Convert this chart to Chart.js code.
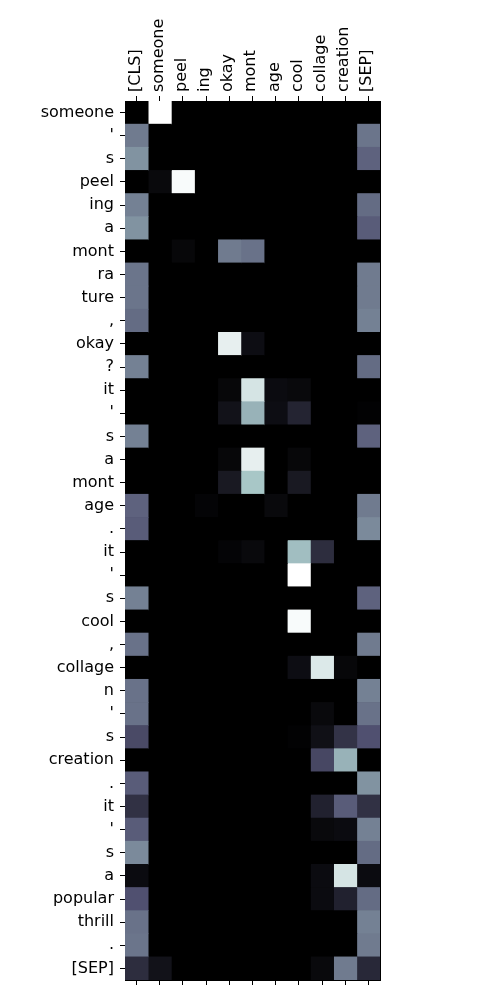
<!DOCTYPE html>
<html>
<head>
<meta charset="utf-8">
<script src="https://cdn.jsdelivr.net/npm/chart.js@4/dist/chart.umd.min.js"></script>
<style>
  html, body { margin: 0; padding: 0; background: #fff; }
  #wrap { width: 500px; height: 1000px; position: relative; }
</style>
</head>
<body>
<div id="wrap"><canvas id="attn"></canvas></div>
<script>
// kolom = token kunci, baris = token query
var colLabels = ['[CLS]', 'someone', 'peel', 'ing', 'okay', 'mont', 'age', 'cool', 'collage', 'creation', '[SEP]'];
var rowLabels = ['someone', "'", 's', 'peel', 'ing', 'a', 'mont', 'ra', 'ture', ',', 'okay', '?', 'it', "'", 's',
    'a', 'mont', 'age', '.', 'it', "'", 's', 'cool', ',', 'collage', 'n', "'", 's', 'creation', '.', 'it', "'", 's',
    'a', 'popular', 'thrill', '.', '[SEP]'];

// bobot atensi per baris (urutan kolom sama dengan colLabels)
var weights = [
    [0,    1,    0,    0,    0,    0,    0,    0,    0,    0,    0   ],
    [0.50, 0,    0,    0,    0,    0,    0,    0,    0,    0,    0.48],
    [0.58, 0,    0,    0,    0,    0,    0,    0,    0,    0,    0.42],
    [0,    0.04, 0.98, 0,    0,    0,    0,    0,    0,    0,    0   ],
    [0.52, 0,    0,    0,    0,    0,    0,    0,    0,    0,    0.45],
    [0.58, 0,    0,    0,    0,    0,    0,    0,    0,    0,    0.40],
    [0,    0,    0.03, 0,    0.50, 0.47, 0,    0,    0,    0,    0   ],
    [0.48, 0,    0,    0,    0,    0,    0,    0,    0,    0,    0.50],
    [0.48, 0,    0,    0,    0,    0,    0,    0,    0,    0,    0.50],
    [0.45, 0,    0,    0,    0,    0,    0,    0,    0,    0,    0.52],
    [0,    0,    0,    0,    0.93, 0.06, 0,    0,    0,    0,    0   ],
    [0.52, 0,    0,    0,    0,    0,    0,    0,    0,    0,    0.45],
    [0,    0,    0,    0,    0.03, 0.88, 0.05, 0.04, 0,    0,    0   ],
    [0,    0,    0,    0,    0.08, 0.68, 0.06, 0.16, 0,    0,    0.01],
    [0.52, 0,    0,    0,    0,    0,    0,    0,    0,    0,    0.42],
    [0,    0,    0,    0,    0.03, 0.93, 0,    0.03, 0,    0,    0   ],
    [0,    0,    0,    0,    0.11, 0.75, 0,    0.11, 0,    0,    0   ],
    [0.42, 0,    0,    0.02, 0,    0,    0.04, 0,    0,    0,    0.50],
    [0.40, 0,    0,    0,    0,    0,    0,    0,    0,    0,    0.55],
    [0,    0,    0,    0,    0.02, 0.04, 0,    0.72, 0.20, 0,    0   ],
    [0,    0,    0,    0,    0,    0,    0,    1,    0,    0,    0   ],
    [0.52, 0,    0,    0,    0,    0,    0,    0,    0,    0,    0.42],
    [0,    0,    0,    0,    0,    0,    0,    0.98, 0,    0,    0   ],
    [0.47, 0,    0,    0,    0,    0,    0,    0,    0,    0,    0.50],
    [0,    0,    0,    0,    0,    0,    0,    0.06, 0.90, 0.03, 0   ],
    [0.47, 0,    0,    0,    0,    0,    0,    0,    0,    0,    0.52],
    [0.47, 0,    0,    0,    0,    0,    0,    0,    0.04, 0,    0.47],
    [0.33, 0,    0,    0,    0,    0,    0,    0.01, 0.07, 0.23, 0.36],
    [0,    0,    0,    0,    0,    0,    0,    0,    0.32, 0.68, 0   ],
    [0.40, 0,    0,    0,    0,    0,    0,    0,    0,    0,    0.58],
    [0.22, 0,    0,    0,    0,    0,    0,    0,    0.15, 0.40, 0.22],
    [0.40, 0,    0,    0,    0,    0,    0,    0,    0.04, 0.05, 0.52],
    [0.55, 0,    0,    0,    0,    0,    0,    0,    0,    0,    0.45],
    [0.05, 0,    0,    0,    0,    0,    0,    0,    0.05, 0.88, 0.05],
    [0.36, 0,    0,    0,    0,    0,    0,    0,    0.05, 0.15, 0.45],
    [0.47, 0,    0,    0,    0,    0,    0,    0,    0,    0,    0.52],
    [0.48, 0,    0,    0,    0,    0,    0,    0,    0,    0,    0.50],
    [0.20, 0.08, 0,    0,    0,    0,    0,    0,    0.04, 0.50, 0.18]
];

// colormap "bone" ala matplotlib
function interp(points, v) {
    for (var i = 1; i < points.length; i++) {
        if (v <= points[i][0]) {
            var a = points[i - 1], b = points[i];
            return a[1] + (b[1] - a[1]) * (v - a[0]) / (b[0] - a[0]);
        }
    }
    return points[points.length - 1][1];
}
var boneR = [[0, 0], [0.746032, 0.652778], [1, 1]];
var boneG = [[0, 0], [0.365079, 0.319444], [0.746032, 0.777778], [1, 1]];
var boneB = [[0, 0], [0.365079, 0.444444], [1, 1]];
function bone(v) {
    v = Math.max(0, Math.min(1, v));
    var r = Math.round(255 * interp(boneR, v));
    var g = Math.round(255 * interp(boneG, v));
    var b = Math.round(255 * interp(boneB, v));
    return 'rgb(' + r + ',' + g + ',' + b + ')';
}

Chart.defaults.font.family = 'DejaVu Sans';
Chart.defaults.font.size = 16;
Chart.defaults.color = '#000';

// satu dataset per kolom, tiap sel = floating bar
var datasets = colLabels.map(function (c, j) {
    return {
        label: c,
        data: rowLabels.map(function () { return [j - 0.5, j + 0.5]; }),
        backgroundColor: weights.map(function (row) { return bone(row[j]); }),
        borderWidth: 0,
        grouped: false,
        barPercentage: 1,
        categoryPercentage: 1
    };
});

function colTicks(scale) {
    scale.ticks = colLabels.map(function (_, i) { return { value: i }; });
}

// latar hitam di area plot supaya tidak ada garis tipis antar sel
var areaBg = {
    id: 'areaBg',
    beforeDatasetsDraw: function (chart) {
        var a = chart.chartArea, ctx = chart.ctx;
        ctx.save();
        ctx.fillStyle = bone(0);
        ctx.fillRect(a.left, a.top, a.right - a.left, a.bottom - a.top);
        ctx.restore();
    }
};

new Chart(document.getElementById('attn'), {
    type: 'bar',
    data: { labels: rowLabels, datasets: datasets },
    plugins: [areaBg],
    options: {
        indexAxis: 'y',
        responsive: true,
        maintainAspectRatio: false,
        animation: false,
        layout: { padding: 0 },
        plugins: { legend: { display: false }, tooltip: { enabled: false } },
        scales: {
            x: {
                type: 'linear',
                position: 'top',
                min: -0.5,
                max: 10.5,
                afterBuildTicks: colTicks,
                afterFit: function (s) { s.height = 101; },
                ticks: {
                    autoSkip: false,
                    minRotation: 90,
                    maxRotation: 90,
                    padding: 4,
                    labelOffset: 18,
                    callback: function (v) { return colLabels[v]; }
                },
                grid: { drawOnChartArea: false, tickLength: 5, color: '#000' },
                border: { color: '#000', width: 1 }
            },
            x2: {
                type: 'linear',
                position: 'bottom',
                min: -0.5,
                max: 10.5,
                afterBuildTicks: colTicks,
                afterFit: function (s) { s.height = 20; },
                ticks: { autoSkip: false, callback: function () { return ''; } },
                grid: { drawOnChartArea: false, tickLength: 5, color: '#000' },
                border: { color: '#000', width: 1 }
            },
            y: {
                type: 'category',
                position: 'left',
                afterFit: function (s) { s.width = 125; },
                ticks: { autoSkip: false, padding: 6 },
                grid: { drawOnChartArea: false, offset: false, tickLength: 5, color: '#000' },
                border: { color: '#000', width: 1 }
            },
            y2: {
                type: 'category',
                position: 'right',
                afterFit: function (s) { s.width = 120; },
                ticks: { display: false },
                grid: { drawOnChartArea: false, drawTicks: false },
                border: { color: '#000', width: 1 }
            }
        }
    }
});
</script>
</body>
</html>
